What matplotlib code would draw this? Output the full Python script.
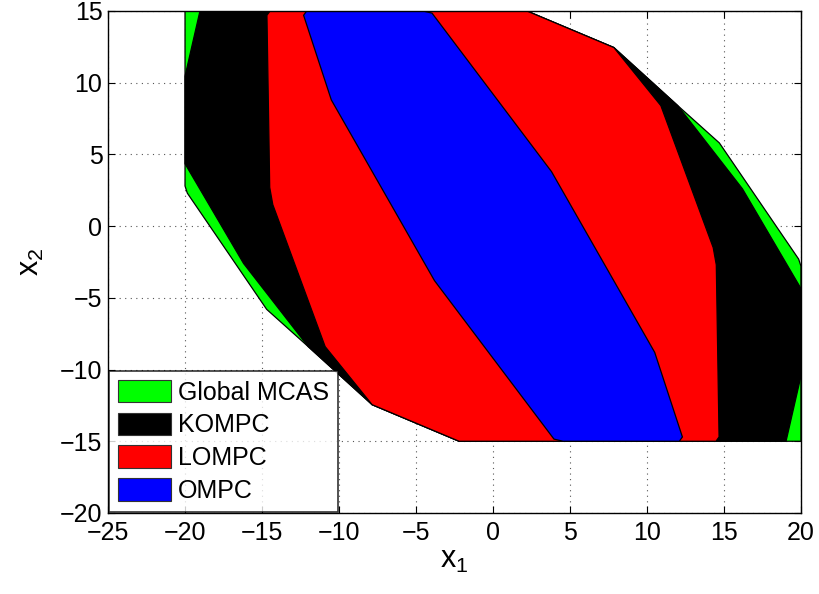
import matplotlib
matplotlib.use("Agg")
import matplotlib.pyplot as plt
from matplotlib.patches import Patch

plt.rcParams['font.family'] = ['Liberation Sans', 'DejaVu Sans']
plt.rcParams['mathtext.default'] = 'regular'

# Region vertices (x1, x2) for each invariant set, outermost first
mcas_x = [-20, 2.2, 7.85, 12.0, 14.7, 19.85, 20, 20, -2.2, -7.85, -12.0, -14.7, -19.85, -20]
mcas_y = [15, 15, 12.45, 8.4, 5.8, -2.3, -2.8, -15, -15, -12.45, -8.4, -5.8, 2.3, 2.8]

kompc_x = [-19.03, 2.2, 7.85, 12.0, 16.2, 20, 20, 19.03, -2.2, -7.85, -12.0, -16.2, -20, -20]
kompc_y = [15, 15, 12.45, 8.4, 2.6, -4.35, -10.45, -15, -15, -12.45, -8.4, -2.6, 4.35, 10.45]

lompc_x = [-14.48, 2.2, 7.85, 10.9, 14.3, 14.5, 14.68, 14.48, -2.2, -7.85, -10.9, -14.3, -14.5, -14.68]
lompc_y = [15, 15, 12.45, 8.4, -1.5, -2.7, -14.7, -15, -15, -12.45, -8.4, 1.5, 2.7, 14.7]

ompc_x = [-12.1, -4.55, -3.96, 3.8, 10.5, 12.3, 12.1, 4.55, 3.96, -3.8, -10.5, -12.3]
ompc_y = [15, 15, 14.85, 3.8, -8.8, -14.7, -15, -15, -14.85, -3.8, 8.8, 14.7]

labels = ['Global MCAS', 'KOMPC', 'LOMPC', 'OMPC']
colors = ['#00ff00', '#000000', '#ff0000', '#0000ff']
regions = [(mcas_x, mcas_y), (kompc_x, kompc_y), (lompc_x, lompc_y), (ompc_x, ompc_y)]

xticks = [-25, -20, -15, -10, -5, 0, 5, 10, 15, 20]
yticks = [-20, -15, -10, -5, 0, 5, 10, 15]

fig = plt.figure(figsize=(8.19, 5.94), dpi=100)
ax = fig.add_axes([0.1319, 0.1364, 0.978 - 0.1319, 0.9815 - 0.1364])

for (xs, ys), c in zip(regions, colors):
    ax.fill(xs, ys, facecolor=c, edgecolor='black', linewidth=0.9, zorder=2)

ax.set_xlim(-25, 20)
ax.set_ylim(-20, 15)
ax.set_xticks(xticks)
ax.set_yticks(yticks)
ax.set_axisbelow(True)
ax.grid(True, linestyle=(0, (1, 4)), color='#555555', linewidth=0.8)
ax.tick_params(direction='in', top=True, right=True, labelsize=18, length=5, width=0.8)
ax.tick_params(axis='x', pad=6)
ax.tick_params(axis='y', pad=4)
for s in ax.spines.values():
    s.set_linewidth(1.0)
    s.set_zorder(5)

ax.set_xlabel('x$_1$', fontsize=22, labelpad=0)
ax.set_ylabel('x$_2$', fontsize=22, labelpad=10)

handles = [Patch(facecolor=c, edgecolor='#333333', linewidth=0.8) for c in colors]
leg = ax.legend(handles, labels, loc='lower left', fontsize=18, frameon=True,
                fancybox=False, borderaxespad=0.05, handlelength=2.1, handleheight=1.0,
                labelspacing=0.32, handletextpad=0.3, borderpad=0.35)
leg.get_frame().set_edgecolor('black')
leg.get_frame().set_linewidth(1.2)
leg.set_zorder(10)

fig.savefig('out.png', dpi=100)
